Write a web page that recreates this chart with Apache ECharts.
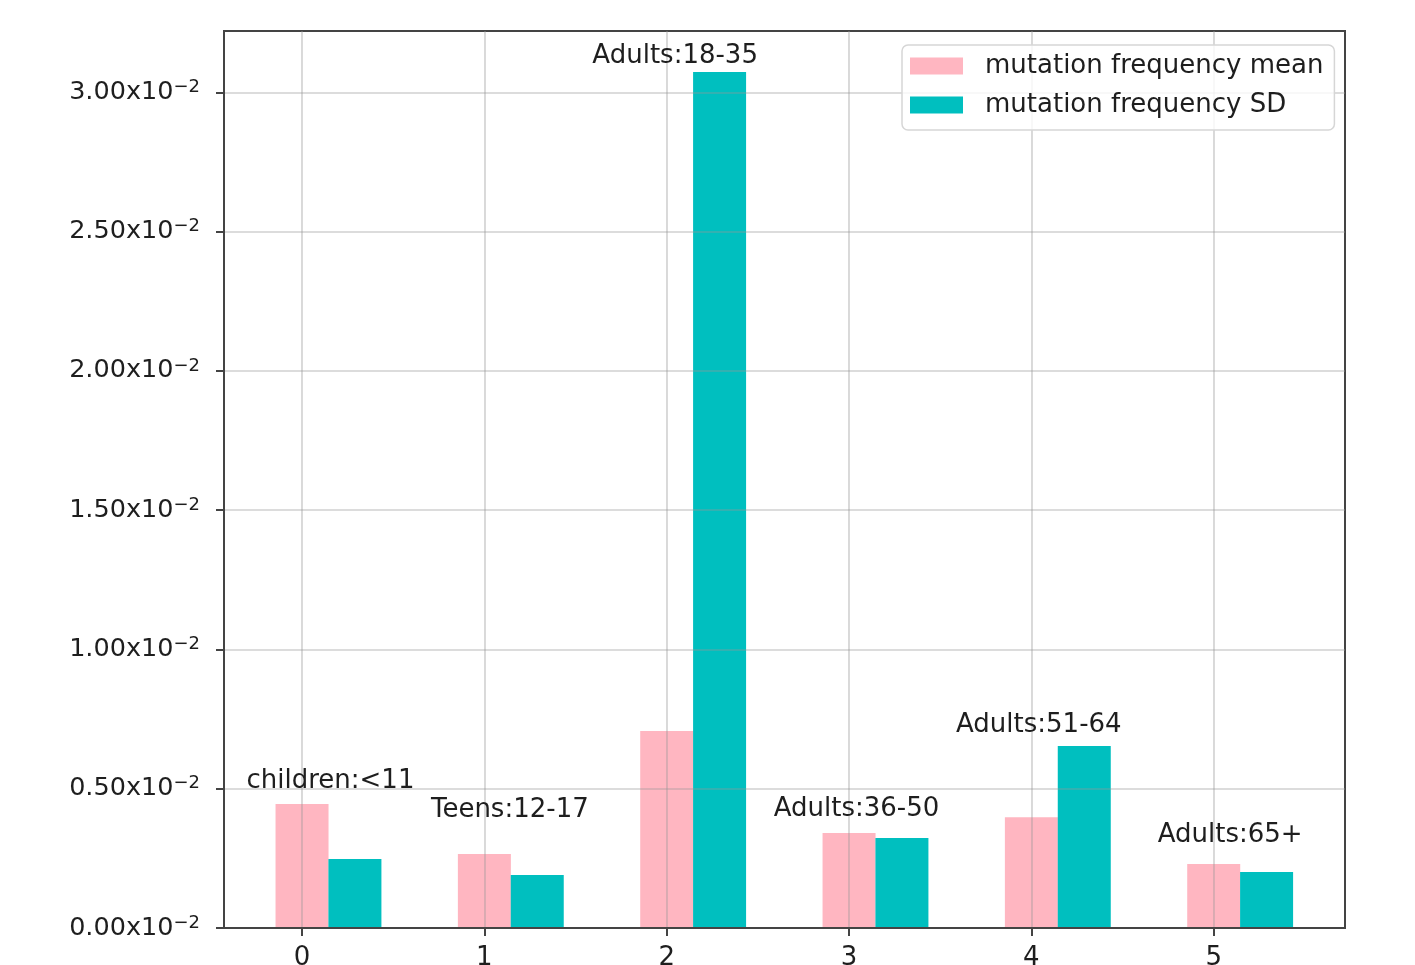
<!DOCTYPE html>
<html>
<head>
<meta charset="utf-8">
<title>Mutation frequency by age group</title>
<script src="https://cdn.jsdelivr.net/npm/echarts@6/dist/echarts.min.js"></script>
<style>
  html, body { margin: 0; padding: 0; background: #ffffff; }
  #chart { width: 1415px; height: 965px; }
</style>
</head>
<body>
<div id="chart"></div>
<script>
// Age groups, in plotting order (x positions 0..5)
const groups = ['children:<11', 'Teens:12-17', 'Adults:18-35', 'Adults:36-50', 'Adults:51-64', 'Adults:65+'];
const xTicks = [0, 1, 2, 3, 4, 5];

// Per-group statistics of mutation frequency
const meanValues = [0.00445, 0.00266, 0.00707, 0.00341, 0.00398, 0.00230];
const sdValues   = [0.00248, 0.00190, 0.03073, 0.00323, 0.00653, 0.00201];

// Y-axis ticks (shown as multiples of 10^-2)
const yTicks = [0, 0.005, 0.010, 0.015, 0.020, 0.025, 0.030];

const seriesNames = ['mutation frequency mean', 'mutation frequency SD'];
const colors = ['#FFB6C1', '#00BFBF'];

// Layout: SD bar sits one bar-width to the right of the mean bar
const barStep = 0.29;           // in x-axis units
const barPx = 53;
const FONT = 'DejaVu Sans';
const TEXT = '#1e1e1e';

// Hand-placed nudges for group annotations [dx, dy] in px
const labelNudge = [[2, -7], [-1, -28], [-18, 0], [-19, -8], [-19, -5], [-10, -13]];

const chart = echarts.init(document.getElementById('chart'), null, { renderer: 'canvas' });

const gridLine = { show: true, lineStyle: { color: 'rgba(150,150,150,0.45)', width: 1.6 } };
const frame = { color: '#444444', width: 2 };

const annotationLabel = {
  show: true, position: 'top', distance: 0,
  fontFamily: FONT, fontSize: 26, color: TEXT, lineHeight: 30, opacity: 1
};

const option = {
  backgroundColor: '#ffffff',
  animation: false,
  textStyle: { fontFamily: FONT },
  grid: {
    left: 224, top: 31, right: 70, bottom: 37,
    outerBoundsMode: 'none',
    containLabel: false,
    show: true, borderColor: '#444444', borderWidth: 2, backgroundColor: 'transparent'
  },
  legend: {
    data: seriesNames,
    orient: 'vertical',
    left: 902, top: 45,
    icon: 'rect',
    itemWidth: 53, itemHeight: 17,
    itemGap: 9,
    padding: [6, 11, 10, 8],
    backgroundColor: 'rgba(255,255,255,0.8)',
    borderColor: '#d6d6d6', borderWidth: 1.5, borderRadius: 6,
    textStyle: { fontFamily: FONT, fontSize: 26, color: TEXT, lineHeight: 30, padding: [0, 0, 0, 17] },
    z: 10
  },
  xAxis: {
    type: 'value',
    min: -0.428, max: 5.72,
    z: 5,
    axisLine: { show: true, onZero: false, lineStyle: frame },
    axisTick: { show: true, customValues: xTicks, length: 8, lineStyle: frame },
    axisLabel: {
      customValues: xTicks, margin: 17,
      fontFamily: FONT, fontSize: 26, color: TEXT,
      formatter: v => String(Math.round(v))
    },
    splitLine: gridLine
  },
  yAxis: {
    type: 'value',
    min: 0, max: 0.0322,
    z: 5,
    axisLine: { show: true, onZero: false, lineStyle: frame },
    axisTick: { show: true, customValues: yTicks, length: 8, lineStyle: frame },
    axisLabel: {
      customValues: yTicks, margin: 24,
      formatter: v => '{m|' + (v * 100).toFixed(2) + 'x10}{e|\u22122}',
      rich: {
        m: { fontFamily: FONT, fontSize: 25.5, color: TEXT, lineHeight: 28 },
        e: { fontFamily: FONT, fontSize: 18, color: TEXT, lineHeight: 14, verticalAlign: 'top' }
      }
    },
    splitLine: gridLine
  },
  series: [
    {
      name: seriesNames[0],
      type: 'bar',
      barWidth: barPx,
      barGap: '-100%',
      itemStyle: { color: colors[0] },
      data: meanValues.map((v, i) => [xTicks[i], v])
    },
    {
      name: seriesNames[1],
      type: 'bar',
      barWidth: barPx,
      barGap: '-100%',
      itemStyle: { color: colors[1] },
      data: sdValues.map((v, i) => [xTicks[i] + barStep, v])
    },
    {
      // group annotations above the taller bar of each pair
      name: 'groups',
      type: 'scatter',
      symbol: 'circle',
      symbolSize: 1,
      itemStyle: { opacity: 0 },
      silent: true,
      z: 6,
      label: annotationLabel,
      data: groups.map((g, i) => ({
        value: [xTicks[i] + barStep / 2, Math.max(meanValues[i], sdValues[i])],
        label: Object.assign({}, annotationLabel, { offset: labelNudge[i], formatter: g })
      }))
    }
  ]
};

chart.setOption(option);
</script>
</body>
</html>
